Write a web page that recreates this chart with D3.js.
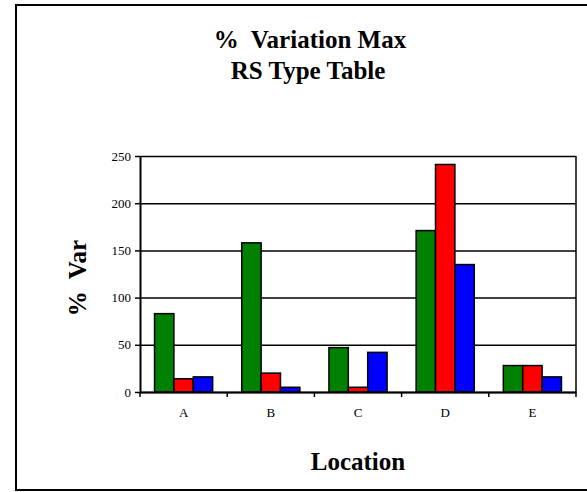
<!DOCTYPE html>
<html>
<head>
<meta charset="utf-8">
<script src="https://d3js.org/d3.v7.min.js"></script>
<style>
  body { margin: 0; background: #fff; }
  svg { display: block; }
</style>
</head>
<body>
<script>
// chart values
var categories = ['A', 'B', 'C', 'D', 'E'];
var seriesNames = ['s1', 's2', 's3'];
var green = [83, 158, 47, 171, 28];
var red = [14, 20, 5, 241, 28];
var blue = [16, 5, 42, 135, 16];
var yTicks = [0, 50, 100, 150, 200, 250];
var colors = ['#008000', '#ff0000', '#0000ff'];

var serif = 'Liberation Serif';

var W = 587, H = 492;
var margin = {top: 156, bottom: 100, right: 11, left: 140};
var width = W - margin.left - margin.right,
    height = H - margin.top - margin.bottom;

var svg = d3.select('body').append('svg')
    .attr('width', W)
    .attr('height', H)
    .attr('font-family', serif);

// outer frame
svg.append('rect')
    .attr('x', 16).attr('y', 5)
    .attr('width', W - 16 + 2).attr('height', 485)
    .attr('fill', 'none')
    .attr('stroke', '#000')
    .attr('stroke-width', 2);

function boldText(x, yy, txt) {
    return svg.append('text')
        .attr('x', x).attr('y', yy)
        .attr('text-anchor', 'middle')
        .attr('font-family', serif)
        .attr('font-size', 25)
        .attr('font-weight', 700)
        .attr('fill', '#000')
        .text(txt);
}
boldText(310, 48, '%\u00a0 Variation Max');
boldText(308, 79, 'RS Type Table');

var g = svg.append('g')
    .attr('transform', 'translate(' + margin.left + ',' + margin.top + ')');

//scales
var x0 = d3.scaleBand().domain(categories).range([0, width]).padding(0);
var x1 = d3.scaleBand().domain(seriesNames).range([0, x0.bandwidth()])
    .paddingInner(0).paddingOuter(0.75);
var y = d3.scaleLinear().domain([0, 250]).range([height, 0]);

// gridlines
g.append('g')
    .attr('class', 'grid')
    .call(d3.axisLeft(y).tickValues(yTicks).tickSize(-width).tickFormat(''))
    .call(function(s) {
        s.select('.domain').remove();
        s.selectAll('line').attr('stroke', '#000').attr('stroke-width', 1.5);
    });

// plot frame right side
g.append('line')
    .attr('x1', width).attr('x2', width)
    .attr('y1', 0).attr('y2', height)
    .attr('stroke', '#000').attr('stroke-width', 1.5);

// bars
var data = categories.map(function(c, i) {
    return {cat: c, vals: [green[i], red[i], blue[i]]};
});

var groups = g.selectAll('.grp')
    .data(data)
    .enter().append('g')
    .attr('class', 'grp')
    .attr('transform', function(d) { return 'translate(' + x0(d.cat) + ',0)'; });

groups.selectAll('rect')
    .data(function(d) {
        return d.vals.map(function(v, j) { return {s: seriesNames[j], v: v, j: j}; });
    })
    .enter().append('rect')
    .attr('x', function(d) { return x1(d.s); })
    .attr('y', function(d) { return y(d.v); })
    .attr('width', x1.bandwidth())
    .attr('height', function(d) { return height - y(d.v); })
    .attr('fill', function(d) { return colors[d.j]; })
    .attr('stroke', '#000')
    .attr('stroke-width', 1.5);

// y axis
g.append('g')
    .call(d3.axisLeft(y).tickValues(yTicks).tickSize(5).tickSizeOuter(0).tickPadding(4))
    .attr('font-family', serif)
    .attr('font-size', 13)
    .call(function(s) {
        s.select('.domain').attr('stroke-width', 2);
        s.selectAll('line').attr('stroke-width', 1.5);
        s.selectAll('text').attr('fill', '#000');
    });

// x axis labels
g.append('g')
    .attr('transform', 'translate(0,' + height + ')')
    .call(d3.axisBottom(x0).tickSize(0).tickSizeOuter(0).tickPadding(16))
    .attr('font-family', serif)
    .attr('font-size', 13)
    .call(function(s) {
        s.select('.domain').attr('stroke-width', 2);
        s.selectAll('text').attr('fill', '#000');
    });

// x boundary ticks
var bounds = categories.map(function(c) { return x0(c); }).concat([x0.range()[1]]);
g.selectAll('.xtick')
    .data(bounds)
    .enter().append('line')
    .attr('class', 'xtick')
    .attr('x1', function(d) { return d; }).attr('x2', function(d) { return d; })
    .attr('y1', height).attr('y2', height + 5)
    .attr('stroke', '#000').attr('stroke-width', 1.5);

// axis titles
boldText(0, 0, '%\u00a0 Var')
    .attr('transform', 'translate(86,278) rotate(-90)');

boldText(margin.left + width / 2, 470, 'Location');
</script>
</body>
</html>
